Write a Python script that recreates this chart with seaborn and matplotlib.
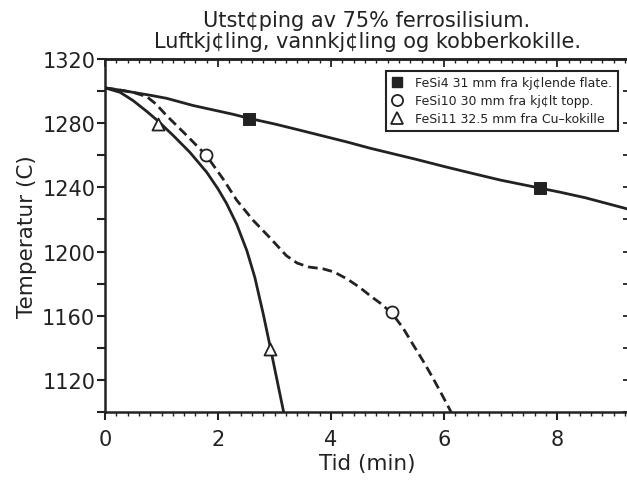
import matplotlib
matplotlib.use("Agg")
import matplotlib.pyplot as plt
import seaborn as sns
import pandas as pd
from matplotlib.lines import Line2D
from matplotlib.ticker import MultipleLocator

# ---- data ----
fesi4_t = [0.0, 0.27, 0.5, 0.8, 1.09, 1.56, 2.0, 2.27, 2.55, 3.0, 3.36, 3.86, 4.28,
           4.69, 5.5, 6.0, 6.5, 7.0, 7.7, 8.05, 8.5, 9.27]
fesi4_T = [1302.0, 1300.6, 1299.2, 1297.4, 1295.5, 1291.0, 1287.6, 1285.5, 1283.0,
           1279.5, 1276.4, 1272.0, 1268.3, 1264.4, 1257.5, 1253.0, 1248.7, 1244.5,
           1239.5, 1237.0, 1233.5, 1226.3]
fesi4_mark_t = [2.55, 7.7]
fesi4_mark_T = [1282.5, 1239.5]

fesi10_t = [0.0, 0.27, 0.5, 0.74, 0.9, 1.09, 1.45, 1.79, 2.09, 2.33, 2.62, 2.92,
            3.21, 3.4, 3.6, 3.86, 4.05, 4.28, 4.5, 4.69, 4.87, 5.07, 5.27, 5.46,
            5.65, 5.81, 5.97, 6.13]
fesi10_T = [1302.0, 1300.6, 1299.2, 1296.5, 1292.0, 1284.7, 1272.2, 1260.0, 1245.2,
            1232.0, 1219.5, 1208.5, 1197.4, 1192.8, 1190.4, 1189.2, 1187.3, 1183.0,
            1177.8, 1172.5, 1167.8, 1161.8, 1152.5, 1141.4, 1130.5, 1120.6, 1110.2,
            1099.5]
fesi10_mark_t = [1.79, 5.07]
fesi10_mark_T = [1260.0, 1162.2]

fesi11_t = [0.0, 0.27, 0.5, 0.74, 0.94, 1.21, 1.5, 1.8, 2.0, 2.15, 2.33, 2.51,
            2.65, 2.8, 2.92, 3.04, 3.16]
fesi11_T = [1302.0, 1299.2, 1294.0, 1287.3, 1281.3, 1272.2, 1261.9, 1249.4, 1239.0,
            1230.0, 1217.0, 1200.5, 1184.0, 1161.0, 1141.0, 1120.5, 1100.0]
fesi11_mark_t = [0.94, 2.92]
fesi11_mark_T = [1279.5, 1139.5]

labels = ["FeSi4 31 mm fra kj¢lende flate.",
          "FeSi10 30 mm fra kj¢lt topp.",
          "FeSi11 32.5 mm fra Cu\u2013kokille"]
title = "Utst¢ping av 75% ferrosilisium.\nLuftkj¢ling, vannkj¢ling og kobberkokille."
xlabel = "Tid (min)"
ylabel = "Temperatur (C)"
xticks = [0, 2, 4, 6, 8]
yticks = [1120, 1160, 1200, 1240, 1280, 1320]

# ---- plot ----
sns.set_style("ticks")
plt.rcParams['font.family'] = ['DejaVu Sans']
ink = "#222222"

fig = plt.figure(figsize=(6.27, 4.81), dpi=100)
ax = fig.add_axes([105 / 627, 68 / 481, 524 / 627, 353 / 481])

lw = 2.0
d4 = pd.DataFrame({"t": fesi4_t, "T": fesi4_T})
d10 = pd.DataFrame({"t": fesi10_t, "T": fesi10_T})
d11 = pd.DataFrame({"t": fesi11_t, "T": fesi11_T})
sns.lineplot(data=d4, x="t", y="T", sort=False, ax=ax, color=ink, lw=lw)
sns.lineplot(data=d10, x="t", y="T", sort=False, ax=ax, color=ink, lw=lw,
             linestyle=(0, (3.5, 1.8)))
sns.lineplot(data=d11, x="t", y="T", sort=False, ax=ax, color=ink, lw=lw)

sns.scatterplot(x=fesi4_mark_t, y=fesi4_mark_T, ax=ax, marker="s", s=75,
                color=ink, edgecolor=ink, zorder=5)
sns.scatterplot(x=fesi10_mark_t, y=fesi10_mark_T, ax=ax, marker="o", s=75,
                facecolor="white", edgecolor=ink, linewidth=1.3, zorder=5)
sns.scatterplot(x=fesi11_mark_t, y=fesi11_mark_T, ax=ax, marker="^", s=75,
                facecolor="white", edgecolor=ink, linewidth=1.3, zorder=5)

ax.set_xlim(0, 9.27)
ax.set_ylim(1100, 1320)
ax.set_xticks(xticks)
ax.set_yticks(yticks)
ax.xaxis.set_minor_locator(MultipleLocator(0.2))
ax.yaxis.set_minor_locator(MultipleLocator(20))
ax.tick_params(axis="x", which="major", labelsize=15, colors=ink,
               length=6, width=1.5, direction="out", pad=6)
ax.tick_params(axis="y", which="major", labelsize=15, colors=ink,
               length=6, width=1.5, direction="out", pad=1)
ax.tick_params(axis="x", which="minor", length=3, width=1, direction="out",
               colors=ink)
ax.tick_params(axis="y", which="minor", length=6, width=1.5, direction="out",
               colors=ink)
for sp in ax.spines.values():
    sp.set_visible(True)
    sp.set_linewidth(1.8)
    sp.set_color(ink)

# inward ticks on the top and right frame
top = ax.secondary_xaxis("top")
top.set_xticks(xticks)
top.xaxis.set_minor_locator(MultipleLocator(0.2))
top.tick_params(which="major", direction="in", length=6, width=1.3,
                colors=ink, labeltop=False)
top.tick_params(which="minor", direction="in", length=3, width=1, colors=ink,
                top=True)
top.spines["top"].set_linewidth(1.8)
top.spines["top"].set_color(ink)
right = ax.secondary_yaxis("right")
right.set_yticks([])
right.yaxis.set_minor_locator(MultipleLocator(20))
right.tick_params(which="minor", direction="in", length=4, width=1.3, colors=ink,
                  right=True)

ax.set_xlabel(xlabel, fontsize=15.5, color=ink, labelpad=3)
ax.set_ylabel(ylabel, fontsize=15.5, color=ink, labelpad=4)
ax.set_title(title, fontsize=15, color=ink, pad=9, linespacing=1.05)

handles = [
    Line2D([], [], linestyle="none", marker="s", markersize=7.5, color=ink),
    Line2D([], [], linestyle="none", marker="o", markersize=8,
           markerfacecolor="white", markeredgecolor=ink, markeredgewidth=1.3),
    Line2D([], [], linestyle="none", marker="^", markersize=8,
           markerfacecolor="white", markeredgecolor=ink, markeredgewidth=1.3),
]
leg = ax.legend(handles, labels, loc="upper right", bbox_to_anchor=(0.979, 0.967),
                fontsize=9, frameon=True, fancybox=False, handlelength=0.9,
                handletextpad=1.0, borderpad=0.45, labelspacing=0.4,
                borderaxespad=0)
leg.get_frame().set_edgecolor(ink)
leg.get_frame().set_linewidth(1.5)
leg.get_frame().set_alpha(1)
for t in leg.get_texts():
    t.set_color(ink)

fig.savefig("out.png", dpi=100)
